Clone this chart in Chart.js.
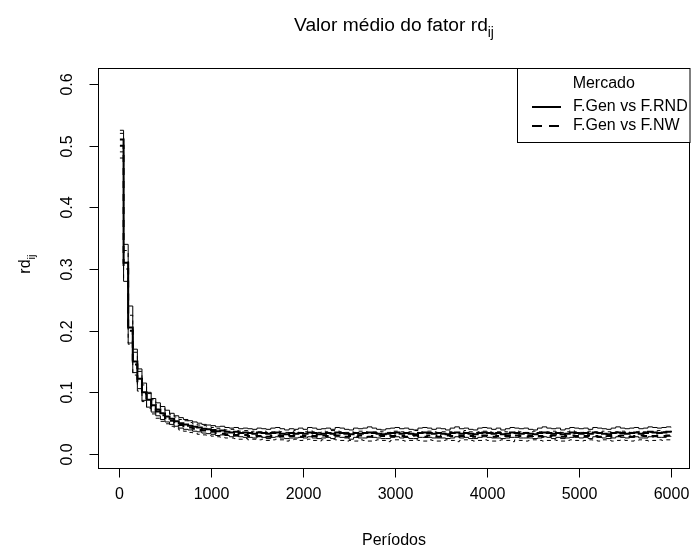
<!DOCTYPE html>
<html><head><meta charset="utf-8">
<script src="https://cdn.jsdelivr.net/npm/chart.js@4.4.1/dist/chart.umd.min.js"></script>
<style>html,body{margin:0;padding:0;background:#fff;}#wrap{width:691px;height:552px;}</style>
</head><body><div id="wrap"><canvas id="c" width="691" height="552"></canvas></div>
<script>
const periods = [
  10, 50, 100, 150, 200, 250, 300, 350, 400, 450,
  500, 550, 600, 650, 700, 750, 800, 850, 900, 950,
  1000, 1050, 1100, 1150, 1200, 1250, 1300, 1350, 1400, 1450,
  1500, 1550, 1600, 1650, 1700, 1750, 1800, 1850, 1900, 1950,
  2000, 2050, 2100, 2150, 2200, 2250, 2300, 2350, 2400, 2450,
  2500, 2550, 2600, 2650, 2700, 2750, 2800, 2850, 2900, 2950,
  3000, 3050, 3100, 3150, 3200, 3250, 3300, 3350, 3400, 3450,
  3500, 3550, 3600, 3650, 3700, 3750, 3800, 3850, 3900, 3950,
  4000, 4050, 4100, 4150, 4200, 4250, 4300, 4350, 4400, 4450,
  4500, 4550, 4600, 4650, 4700, 4750, 4800, 4850, 4900, 4950,
  5000, 5050, 5100, 5150, 5200, 5250, 5300, 5350, 5400, 5450,
  5500, 5550, 5600, 5650, 5700, 5750, 5800, 5850, 5900, 5950,
  6000
];
// F.Gen vs F.RND (solid)
const rndMean = [
  0.510, 0.310, 0.205, 0.150, 0.122, 0.100, 0.088, 0.079, 0.072, 0.066,
  0.061, 0.057, 0.053, 0.050, 0.048, 0.046, 0.044, 0.043, 0.041, 0.040,
  0.039, 0.037, 0.038, 0.036, 0.035, 0.036, 0.034, 0.035, 0.034, 0.033,
  0.035, 0.034, 0.033, 0.034, 0.035, 0.033, 0.032, 0.034, 0.033, 0.034,
  0.033, 0.035, 0.034, 0.032, 0.033, 0.034, 0.033, 0.035, 0.034, 0.033,
  0.032, 0.034, 0.033, 0.034, 0.035, 0.034, 0.033, 0.032, 0.033, 0.034,
  0.035, 0.033, 0.034, 0.033, 0.032, 0.034, 0.035, 0.034, 0.033, 0.034,
  0.033, 0.032, 0.034, 0.035, 0.033, 0.034, 0.033, 0.032, 0.034, 0.035,
  0.034, 0.033, 0.034, 0.032, 0.033, 0.035, 0.034, 0.033, 0.034, 0.033,
  0.032, 0.034, 0.035, 0.034, 0.033, 0.034, 0.032, 0.033, 0.035, 0.034,
  0.033, 0.034, 0.033, 0.035, 0.034, 0.033, 0.032, 0.034, 0.035, 0.034,
  0.033, 0.034, 0.035, 0.033, 0.034, 0.036, 0.035, 0.034, 0.035, 0.036,
  0.035
];
const rndUpper = [
  0.525, 0.340, 0.240, 0.170, 0.138, 0.115, 0.100, 0.090, 0.083, 0.077,
  0.071, 0.066, 0.062, 0.059, 0.056, 0.054, 0.052, 0.050, 0.048, 0.047,
  0.046, 0.044, 0.045, 0.043, 0.042, 0.043, 0.041, 0.042, 0.041, 0.040,
  0.042, 0.041, 0.040, 0.042, 0.043, 0.041, 0.039, 0.041, 0.040, 0.042,
  0.040, 0.043, 0.042, 0.040, 0.041, 0.042, 0.040, 0.043, 0.042, 0.040,
  0.039, 0.042, 0.041, 0.042, 0.044, 0.042, 0.040, 0.039, 0.041, 0.042,
  0.043, 0.041, 0.042, 0.040, 0.039, 0.042, 0.043, 0.042, 0.040, 0.042,
  0.041, 0.039, 0.042, 0.044, 0.041, 0.042, 0.040, 0.039, 0.042, 0.043,
  0.042, 0.040, 0.042, 0.039, 0.041, 0.043, 0.042, 0.041, 0.042, 0.040,
  0.039, 0.042, 0.044, 0.042, 0.041, 0.042, 0.039, 0.041, 0.043, 0.042,
  0.041, 0.042, 0.040, 0.043, 0.042, 0.041, 0.040, 0.042, 0.044, 0.042,
  0.041, 0.042, 0.043, 0.041, 0.042, 0.044, 0.043, 0.042, 0.043, 0.044,
  0.043
];
const rndLower = [
  0.490, 0.280, 0.180, 0.132, 0.106, 0.087, 0.076, 0.068, 0.062, 0.056,
  0.052, 0.048, 0.045, 0.042, 0.040, 0.039, 0.037, 0.036, 0.034, 0.033,
  0.032, 0.030, 0.031, 0.030, 0.028, 0.029, 0.028, 0.027, 0.027, 0.026,
  0.028, 0.027, 0.025, 0.027, 0.028, 0.026, 0.025, 0.026, 0.026, 0.027,
  0.026, 0.028, 0.026, 0.025, 0.026, 0.027, 0.025, 0.028, 0.027, 0.026,
  0.024, 0.027, 0.026, 0.026, 0.028, 0.027, 0.026, 0.025, 0.025, 0.027,
  0.028, 0.026, 0.027, 0.025, 0.025, 0.027, 0.027, 0.027, 0.026, 0.026,
  0.026, 0.025, 0.026, 0.028, 0.026, 0.027, 0.025, 0.025, 0.027, 0.028,
  0.027, 0.026, 0.026, 0.025, 0.026, 0.027, 0.027, 0.026, 0.026, 0.026,
  0.025, 0.026, 0.028, 0.027, 0.025, 0.027, 0.025, 0.026, 0.027, 0.027,
  0.026, 0.027, 0.025, 0.028, 0.027, 0.026, 0.025, 0.026, 0.028, 0.027,
  0.026, 0.027, 0.028, 0.026, 0.026, 0.028, 0.028, 0.027, 0.027, 0.029,
  0.028
];
// F.Gen vs F.NW (dashed)
const nwMean = [
  0.500, 0.300, 0.200, 0.145, 0.118, 0.098, 0.086, 0.076, 0.069, 0.063,
  0.058, 0.054, 0.050, 0.047, 0.045, 0.043, 0.041, 0.039, 0.038, 0.037,
  0.036, 0.034, 0.033, 0.032, 0.033, 0.031, 0.030, 0.031, 0.029, 0.030,
  0.029, 0.030, 0.028, 0.029, 0.030, 0.029, 0.028, 0.029, 0.030, 0.028,
  0.029, 0.030, 0.029, 0.028, 0.030, 0.029, 0.031, 0.030, 0.029, 0.028,
  0.029, 0.028, 0.030, 0.029, 0.028, 0.029, 0.030, 0.029, 0.028, 0.029,
  0.030, 0.029, 0.028, 0.029, 0.030, 0.029, 0.028, 0.030, 0.029, 0.028,
  0.029, 0.030, 0.029, 0.028, 0.029, 0.030, 0.029, 0.028, 0.029, 0.030,
  0.029, 0.028, 0.029, 0.030, 0.029, 0.028, 0.030, 0.029, 0.028, 0.029,
  0.030, 0.029, 0.028, 0.029, 0.030, 0.029, 0.028, 0.029, 0.030, 0.029,
  0.028, 0.029, 0.030, 0.029, 0.028, 0.030, 0.029, 0.028, 0.029, 0.030,
  0.029, 0.028, 0.029, 0.030, 0.029, 0.028, 0.029, 0.030, 0.029, 0.030,
  0.029
];
const nwUpper = [
  0.520, 0.330, 0.225, 0.165, 0.134, 0.112, 0.098, 0.088, 0.080, 0.074,
  0.068, 0.064, 0.060, 0.056, 0.054, 0.051, 0.049, 0.047, 0.046, 0.045,
  0.043, 0.041, 0.040, 0.039, 0.040, 0.038, 0.037, 0.038, 0.036, 0.037,
  0.036, 0.037, 0.035, 0.036, 0.037, 0.036, 0.035, 0.036, 0.038, 0.035,
  0.036, 0.038, 0.036, 0.035, 0.037, 0.036, 0.038, 0.037, 0.036, 0.035,
  0.036, 0.035, 0.037, 0.036, 0.035, 0.036, 0.037, 0.036, 0.035, 0.037,
  0.037, 0.036, 0.035, 0.036, 0.038, 0.036, 0.035, 0.037, 0.036, 0.035,
  0.036, 0.037, 0.036, 0.035, 0.036, 0.038, 0.036, 0.035, 0.036, 0.037,
  0.036, 0.035, 0.036, 0.037, 0.036, 0.035, 0.037, 0.036, 0.035, 0.036,
  0.037, 0.036, 0.035, 0.036, 0.037, 0.036, 0.035, 0.036, 0.038, 0.036,
  0.035, 0.036, 0.037, 0.036, 0.035, 0.037, 0.036, 0.035, 0.036, 0.037,
  0.036, 0.035, 0.036, 0.037, 0.036, 0.035, 0.036, 0.038, 0.036, 0.037,
  0.036
];
const nwLower = [
  0.480, 0.285, 0.178, 0.128, 0.102, 0.085, 0.074, 0.065, 0.058, 0.053,
  0.049, 0.045, 0.042, 0.039, 0.037, 0.035, 0.034, 0.032, 0.031, 0.030,
  0.029, 0.028, 0.027, 0.026, 0.026, 0.025, 0.024, 0.025, 0.023, 0.024,
  0.023, 0.024, 0.022, 0.023, 0.024, 0.023, 0.021, 0.023, 0.024, 0.022,
  0.023, 0.024, 0.022, 0.021, 0.023, 0.022, 0.024, 0.023, 0.022, 0.021,
  0.022, 0.021, 0.023, 0.022, 0.021, 0.022, 0.023, 0.022, 0.020, 0.022,
  0.023, 0.022, 0.021, 0.022, 0.023, 0.022, 0.021, 0.023, 0.022, 0.021,
  0.022, 0.023, 0.022, 0.020, 0.022, 0.023, 0.022, 0.021, 0.022, 0.023,
  0.022, 0.021, 0.022, 0.023, 0.022, 0.020, 0.023, 0.022, 0.021, 0.022,
  0.023, 0.022, 0.021, 0.022, 0.023, 0.022, 0.021, 0.022, 0.023, 0.022,
  0.021, 0.022, 0.023, 0.022, 0.021, 0.023, 0.022, 0.021, 0.022, 0.023,
  0.022, 0.021, 0.022, 0.023, 0.022, 0.021, 0.022, 0.023, 0.022, 0.023,
  0.022
];
const xTicks = [0, 1000, 2000, 3000, 4000, 5000, 6000];
const yTicks = [0, 0.1, 0.2, 0.3, 0.4, 0.5, 0.6];
const yTickLabels = ['0.0', '0.1', '0.2', '0.3', '0.4', '0.5', '0.6'];
const legendTitle = 'Mercado';
const legendLabels = ['F.Gen vs F.RND', 'F.Gen vs F.NW'];
const titleMain = 'Valor médio do fator rd';
const titleSub = 'ij';
const xTitle = 'Períodos';
const yTitleMain = 'rd';
const yTitleSub = 'ij';

const FONT = '"Liberation Sans", Arial, sans-serif';
const toXY = vals => periods.map((p, i) => ({ x: p, y: vals[i] }));
const DASH_THIN = [4, 4];
const DASH_THICK = [7, 6];

function ds(vals, width, dash) {
  return { data: toXY(vals), borderColor: '#000', borderWidth: width, borderDash: dash,
    pointRadius: 0, stepped: true, fill: false, tension: 0 };
}

function subText(ctx, main, sub, size, cx, cy, rot) {
  ctx.save();
  ctx.translate(cx, cy);
  ctx.rotate(rot);
  const subSize = size * 0.72;
  ctx.font = size + 'px ' + FONT;
  const w1 = ctx.measureText(main).width;
  ctx.font = subSize + 'px ' + FONT;
  const w2 = ctx.measureText(sub).width;
  const x0 = -(w1 + w2) / 2;
  ctx.textAlign = 'left';
  ctx.textBaseline = 'alphabetic';
  ctx.fillStyle = '#000';
  ctx.font = size + 'px ' + FONT;
  ctx.fillText(main, x0, size * 0.36);
  ctx.font = subSize + 'px ' + FONT;
  ctx.fillText(sub, x0 + w1, size * 0.36 + size * 0.3);
  ctx.restore();
}

const rPlot = {
  id: 'rPlot',
  afterDraw(chart) {
    const ctx = chart.ctx;
    const a = chart.chartArea;
    const xs = chart.scales.x, ys = chart.scales.y;
    ctx.save();
    ctx.strokeStyle = '#000';
    ctx.fillStyle = '#000';
    ctx.lineWidth = 1;
    ctx.setLineDash([]);
    // box
    ctx.strokeRect(Math.round(a.left) + 0.5, Math.round(a.top) + 0.5,
      Math.round(a.right - a.left) - 1, Math.round(a.bottom - a.top));
    // x ticks
    ctx.font = '16px ' + FONT;
    ctx.textAlign = 'center';
    ctx.textBaseline = 'middle';
    const bot = Math.round(a.bottom) + 0.5;
    xTicks.forEach(v => {
      const px = Math.round(xs.getPixelForValue(v)) + 0.5;
      ctx.beginPath(); ctx.moveTo(px, bot); ctx.lineTo(px, bot + 9); ctx.stroke();
      ctx.fillText(String(v), px, a.bottom + 27);
    });
    // y ticks
    const lft = Math.round(a.left) + 0.5;
    yTicks.forEach((v, i) => {
      const py = Math.round(ys.getPixelForValue(v)) + 0.5;
      ctx.beginPath(); ctx.moveTo(lft, py); ctx.lineTo(lft - 9, py); ctx.stroke();
      ctx.save();
      ctx.translate(a.left - 30, py);
      ctx.rotate(-Math.PI / 2);
      ctx.fillText(yTickLabels[i], 0, 0);
      ctx.restore();
    });
    // axis titles
    ctx.fillText(xTitle, (a.left + a.right) / 2, a.bottom + 73);
    subText(ctx, yTitleMain, yTitleSub, 16, 24, (a.top + a.bottom) / 2 - 4, -Math.PI / 2);
    // main title
    subText(ctx, titleMain, titleSub, 19.2, (a.left + a.right) / 2, 24, 0);
    // legend
    const L = 517.5, T = Math.round(a.top) + 0.5, R = 690, B = 142.5;
    ctx.fillStyle = '#fff';
    ctx.fillRect(L, T, R - L, B - T);
    ctx.strokeRect(L, T, R - L, B - T);
    ctx.fillStyle = '#000';
    ctx.font = '16px ' + FONT;
    ctx.textAlign = 'center';
    ctx.fillText(legendTitle, (L + R) / 2, 84);
    ctx.textAlign = 'left';
    const rows = [107, 126];
    const dashes = [[], [10, 7]];
    rows.forEach((ry, i) => {
      ctx.lineWidth = 2;
      ctx.setLineDash(dashes[i]);
      ctx.beginPath(); ctx.moveTo(532, ry); ctx.lineTo(561, ry); ctx.stroke();
      ctx.setLineDash([]);
      ctx.fillText(legendLabels[i], 573, ry);
    });
    ctx.restore();
  }
};

new Chart(document.getElementById('c'), {
  type: 'line',
  data: {
    datasets: [
      ds(rndUpper, 1, []), ds(rndLower, 1, []),
      ds(nwUpper, 1, DASH_THIN), ds(nwLower, 1, DASH_THIN),
      ds(rndMean, 2, []), ds(nwMean, 2, DASH_THICK)
    ]
  },
  options: {
    responsive: false,
    animation: false,
    devicePixelRatio: 1,
    layout: { padding: { left: 98, top: 68, right: 1, bottom: 84 } },
    plugins: { legend: { display: false }, tooltip: { enabled: false }, title: { display: false } },
    scales: {
      x: { type: 'linear', display: false, min: -228, max: 6207 },
      y: { type: 'linear', display: false, min: -0.0227, max: 0.626 }
    }
  },
  plugins: [rPlot]
});
</script>
</body></html>
